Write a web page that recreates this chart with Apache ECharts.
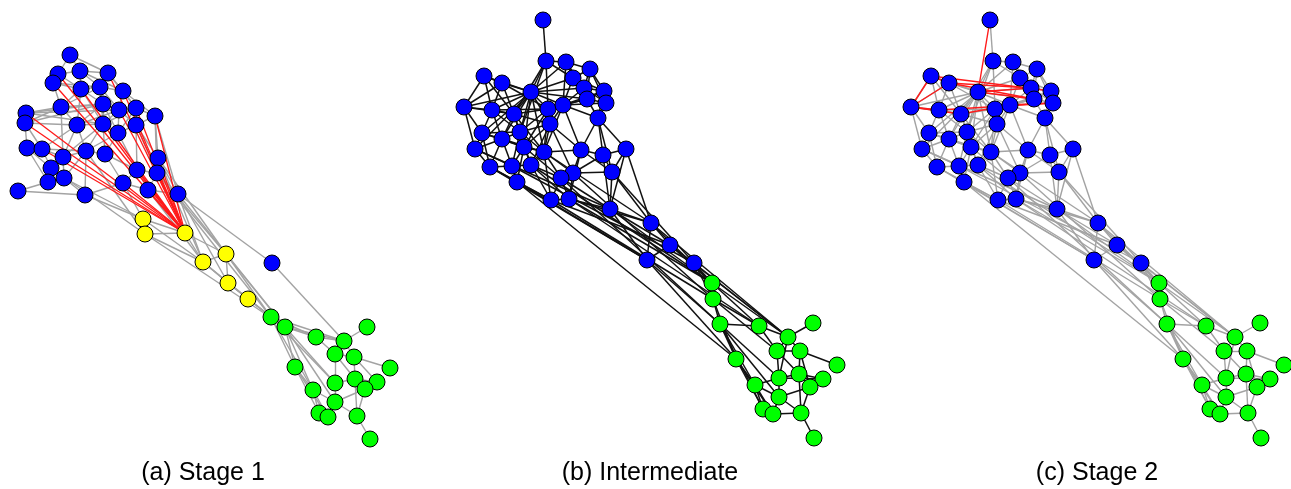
<!DOCTYPE html>
<html>
<head>
<meta charset="utf-8">
<script src="https://cdn.jsdelivr.net/npm/echarts@6/dist/echarts.min.js"></script>
<style>
  html, body { margin: 0; padding: 0; background: #fff; }
  #main { width: 1291px; height: 489px; }
</style>
</head>
<body>
<div id="main"></div>
<script>
  // ---- stage 1 layout (panel a) ----
  var stage1Blue = [[70,55],[58,74],[53,83],[80,71],[108,73],[81,89],[100,87],[123,91],[103,104],[119,110],
    [136,108],[155,116],[61,107],[26,113],[25,123],[77,125],[103,124],[118,133],[136,125],[27,148],
    [42,149],[63,157],[86,151],[105,154],[158,158],[51,168],[48,182],[64,178],[137,170],[157,173],
    [18,191],[85,195],[123,183],[148,190],[178,194],[272,263]];
  var stage1Yellow = [[143,219],[145,234],[185,233],[203,262],[226,254],[228,283],[248,299]];
  var stage1Green = [[271,317],[285,327],[316,337],[367,327],[344,341],[335,354],[354,357],[390,368],[295,367],[335,383],
    [355,379],[377,382],[365,389],[313,390],[335,402],[319,413],[328,417],[357,416],[370,439]];

  var stage1Edges = ['b0-b3','b0-b1','b0-b4','b1-b2','b1-b3','b1-b5','b2-b5','b2-b12','b3-b4','b3-b5','b3-b6','b4-b6',
    'b4-b7','b4-b10','b5-b6','b5-b8','b5-b12','b5-b16','b5-b15','b6-b7','b6-b8','b6-b9','b6-b16','b7-b9','b7-b10',
    'b7-b11','b8-b9','b8-b16','b8-b15','b8-b17','b9-b10','b9-b17','b9-b18','b9-b16','b10-b11','b10-b18','b10-b17',
    'b11-b24','b11-b18','b11-b29','b12-b13','b12-b15','b12-b14','b12-b21','b12-b8','b13-b14','b13-b16','b13-b8',
    'b14-b19','b14-b15','b14-b20','b15-b16','b15-b22','b15-b21','b16-b17','b16-b22','b16-b23','b17-b18','b17-b23',
    'b17-b28','b18-b24','b18-b28','b18-b29','b19-b20','b19-b26','b19-b25','b20-b21','b20-b25','b20-b22','b21-b22',
    'b21-b25','b21-b27','b22-b23','b22-b27','b22-b31','b23-b28','b23-b32','b24-b29','b24-b34','b25-b26','b25-b27',
    'b26-b27','b26-b30','b27-b31','b28-b29','b28-b32','b28-b33','b29-b33','b29-b34','b30-b31','b31-b32','b32-b33',
    'b33-b34','b13-b9','b14-b8','b2-b6','b12-b6','b15-b9','b21-b16','b20-b15','b22-b17','b3-b7','b16-b10',
    'b34-b35','b35-g4','b33-y2','b32-y0','b31-y0','b27-y0','b22-y1','b25-y1','b24-y3','b29-y4','b34-y3','b34-y5',
    'b33-y3','b29-g0','b34-g1','b28-y2','b24-g0','b11-b34',
    'y0-y1','y0-y2','y1-y2','y1-y3','y2-y3','y2-y4','y3-y4','y3-y5','y4-y5','y5-y6','y3-y6','y6-g0','y5-g0','y4-g1',
    'y6-g1','y3-g0','y1-g1','y0-y3',
    'g0-g1','g1-g2','g1-g4','g2-g4','g3-g4','g4-g5','g4-g6','g5-g6','g6-g7','g6-g10','g5-g9','g9-g10','g10-g11',
    'g10-g12','g11-g12','g9-g14','g13-g14','g13-g15','g13-g16','g14-g16','g14-g17','g15-g16','g17-g12','g17-g10',
    'g17-g18','g14-g12','g1-g8','g0-g8','g1-g13','g8-g13','g8-g15','g1-g14','g0-g9','g2-g5','g1-g9','g6-g11',
    'g5-g10','g0-g4','g0-g2','g8-g16','g0-g13'];
  var stage1RedEdges = ['y2-b1','y2-b2','y2-b4','y2-b5','y2-b7','y2-b9','y2-b10','y2-b13','y2-b14','y2-b20','y2-b21',
    'y2-b24','y2-b28','y2-b29','y2-b32','y2-b33','y2-b16','y2-b11','y2-b18'];

  // ---- intermediate / stage 2 layout (panels b and c share it) ----
  var laterBlue = [[543,20],[546,61],[566,62],[590,69],[573,78],[484,76],[502,83],[531,92],[584,88],[604,91],
    [587,99],[606,103],[464,107],[492,110],[514,114],[548,109],[563,105],[550,124],[598,118],[482,133],
    [520,132],[502,139],[475,149],[524,147],[544,152],[581,150],[603,155],[626,149],[490,167],[512,166],
    [531,165],[573,173],[561,178],[612,172],[517,182],[551,200],[569,199],[610,209],[651,223],[670,245],
    [647,260],[694,263]];
  var laterGreen = [[712,283],[713,299],[720,324],[759,326],[813,323],[788,337],[777,351],[800,351],[837,365],[736,359],
    [779,378],[799,374],[823,379],[810,387],[755,385],[779,397],[763,409],[773,414],[801,413],[814,438]];

  var laterEdges = ['b0-b1','b1-b2','b1-b7','b1-b4','b1-b15','b1-b14','b1-b20','b2-b3','b2-b4','b2-b8','b2-b16','b2-b7',
    'b3-b4','b3-b8','b3-b9','b3-b10','b4-b8','b4-b16','b4-b7','b4-b10','b5-b6','b5-b12','b5-b7','b5-b13',
    'b6-b7','b6-b13','b6-b14','b6-b12','b7-b12','b7-b13','b7-b14','b7-b15','b7-b16','b7-b8','b7-b10','b7-b17',
    'b7-b19','b7-b20','b7-b21','b7-b22','b7-b23','b7-b24','b8-b9','b8-b10','b8-b16','b8-b11','b9-b11','b9-b10',
    'b9-b18','b10-b11','b10-b16','b10-b18','b10-b15','b11-b18','b11-b16','b12-b13','b12-b19','b12-b22',
    'b13-b14','b13-b19','b13-b21','b13-b20','b14-b15','b14-b20','b14-b17','b14-b21','b14-b23','b15-b16',
    'b15-b17','b15-b20','b15-b24','b16-b17','b16-b18','b16-b25','b16-b24','b17-b20','b17-b23','b17-b24',
    'b17-b25','b17-b30','b18-b25','b18-b26','b18-b27','b18-b33','b19-b20','b19-b21','b19-b22','b19-b28',
    'b20-b21','b20-b23','b20-b24','b20-b29','b20-b30','b21-b22','b21-b23','b21-b28','b21-b29','b22-b28',
    'b23-b24','b23-b29','b23-b30','b23-b32','b24-b25','b24-b30','b24-b31','b24-b32','b25-b26','b25-b31',
    'b25-b36','b26-b27','b26-b33','b26-b37','b27-b33','b27-b37','b28-b29','b28-b34','b28-b35','b29-b30',
    'b29-b34','b30-b32','b30-b35','b31-b32','b31-b36','b31-b33','b32-b35','b32-b36','b33-b37','b33-b38',
    'b34-b35','b35-b36','b36-b37','b37-b38','b37-b40','b38-b39','b38-b40','b39-b40','b39-b41',
    'b5-b14','b6-b15','b12-b14','b13-b15','b19-b23','b21-b24','b22-b29','b14-b24','b15-b23','b3-b11','b4-b9',
    'b2-b10','b16-b9','b17-b31','b24-b35','b23-b34','b30-b36','b32-b37','b25-b33','b26-b31',
    'b34-b40','b35-b39','b28-b40','b29-b41','b36-g0','b35-g1','b30-g0','b32-g2','b31-g1','b34-g9','b36-g3',
    'b22-b37','b24-b38','b27-b38','b33-b41','b37-g0','b38-g0','b39-g0','b40-g2','b41-g0','b41-g1','b40-g9',
    'b38-g5','b39-g5','b41-g5','b37-b39','b36-b38',
    'g0-g1','g0-g3','g1-g2','g1-g3','g1-g9','g2-g3','g2-g9','g2-g14','g2-g16','g3-g5','g3-g6','g4-g5','g5-g6',
    'g5-g7','g5-g10','g6-g7','g6-g10','g6-g11','g7-g8','g7-g11','g7-g13','g9-g14','g9-g16','g10-g11','g10-g14',
    'g10-g15','g10-g12','g11-g13','g11-g12','g11-g18','g12-g13','g13-g18','g13-g15','g14-g16','g14-g15',
    'g15-g17','g15-g18','g16-g17','g17-g18','g18-g19','g14-g17','g0-g5','g2-g15','g9-g17','g1-g6','g2-g10'];
  var stage2RedEdges = ['b0-b7','b5-b12','b5-b6','b6-b12','b12-b13','b12-b14','b6-b8','b6-b10','b5-b9','b7-b10',
    'b13-b11','b14-b16','b7-b8','b16-b11'];

  var panelTitles = ['(a) Stage 1', '(b) Intermediate', '(c) Stage 2'];
  var titleCenters = [203, 650, 1097];

  var BLUE = '#0000ff', GREEN = '#00ff00', YELLOW = '#ffff00';
  var GREY = '#a3a3a3', RED = '#ff1a1a', BLACK = '#111111';

  function makeNodes(groups) {
    var out = [];
    groups.forEach(function (g) {
      g.pts.forEach(function (p, i) {
        out.push({name: g.prefix + i, value: p, itemStyle: {color: g.color}});
      });
    });
    return out;
  }

  function makeLinks(list, color, width) {
    return list.map(function (e) {
      var s = e.split('-');
      return {source: s[0], target: s[1], lineStyle: {color: color, width: width, opacity: 1}};
    });
  }

  function graphSeries(idx, nodes, links) {
    return {
      type: 'graph',
      coordinateSystem: 'cartesian2d',
      xAxisIndex: idx,
      yAxisIndex: idx,
      symbol: 'circle',
      symbolSize: 16,
      silent: true,
      label: {show: false},
      itemStyle: {borderColor: '#000', borderWidth: 1},
      lineStyle: {opacity: 1, curveness: 0},
      emphasis: {disabled: true},
      data: nodes,
      links: links
    };
  }

  var nodesA = makeNodes([
    {prefix: 'b', pts: stage1Blue, color: BLUE},
    {prefix: 'y', pts: stage1Yellow, color: YELLOW},
    {prefix: 'g', pts: stage1Green, color: GREEN}
  ]);
  var nodesLater = makeNodes([
    {prefix: 'b', pts: laterBlue, color: BLUE},
    {prefix: 'g', pts: laterGreen, color: GREEN}
  ]);

  var linksA = makeLinks(stage1Edges, GREY, 1.4).concat(makeLinks(stage1RedEdges, RED, 1.3));
  var linksB = makeLinks(laterEdges, BLACK, 1.5);
  var linksC = makeLinks(laterEdges, GREY, 1.4).concat(makeLinks(stage2RedEdges, RED, 1.4));

  // 1 data unit = 1 px in every grid; panel c is the b layout shifted 447px right
  var gridLeft = [0, 0, 447];
  var grids = [], xAxes = [], yAxes = [];
  gridLeft.forEach(function (l, i) {
    grids.push({left: l, top: 0, width: 1291 - l, height: 489, containLabel: false});
    xAxes.push({type: 'value', gridIndex: i, min: 0, max: 1291 - l, show: false});
    yAxes.push({type: 'value', gridIndex: i, min: 0, max: 489, inverse: true, show: false});
  });

  var myChart = echarts.init(document.getElementById('main'));
  myChart.setOption({
    animation: false,
    backgroundColor: '#fff',
    grid: grids,
    xAxis: xAxes,
    yAxis: yAxes,
    graphic: panelTitles.map(function (t, i) {
      return {
        type: 'text',
        x: titleCenters[i],
        y: 473,
        style: {
          text: t,
          font: '25px "Liberation Sans", Arial, sans-serif',
          fill: '#000',
          textAlign: 'center',
          textVerticalAlign: 'middle'
        }
      };
    }),
    series: [
      graphSeries(0, nodesA, linksA),
      graphSeries(1, nodesLater, linksB),
      graphSeries(2, nodesLater, linksC)
    ]
  });
</script>
</body>
</html>
